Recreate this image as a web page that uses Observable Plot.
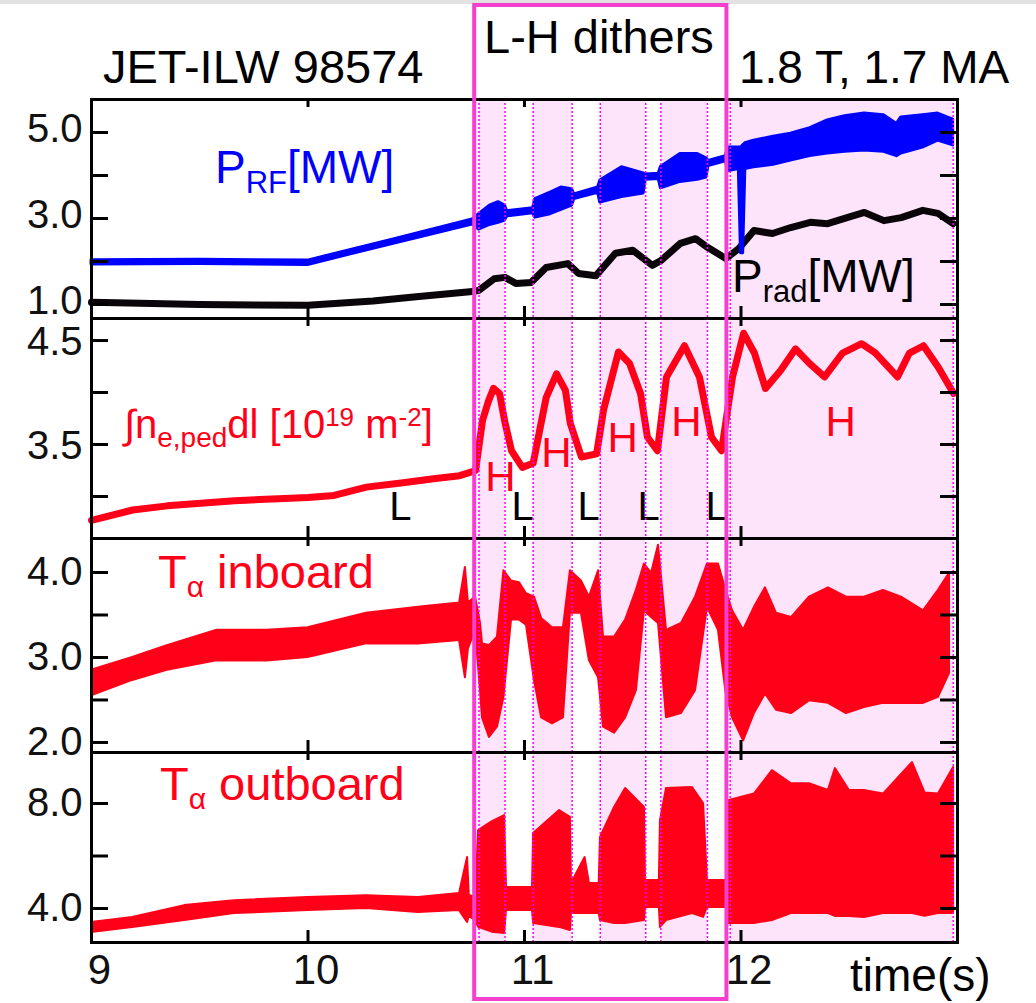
<!DOCTYPE html>
<html><head><meta charset="utf-8">
<script src="https://cdn.jsdelivr.net/npm/d3@7"></script>
<script src="https://cdn.jsdelivr.net/npm/@observablehq/plot@0.6"></script>
<style>
body{margin:0;background:#fff;}
#wrap{position:relative;width:1036px;height:1003px;overflow:hidden;background:#fff;}
#topband{position:absolute;left:0;top:0;width:1036px;height:4px;background:#e2e2e2;}
#wrap svg{overflow:visible;}
</style></head>
<body><div id="wrap"><div id="topband"></div></div>
<script>
// ---------------- DATA ----------------
// H-mode phases (s)
const hStart = [10.79, 11.04, 11.35, 11.63, 11.95];
const hEnd   = [10.91, 11.22, 11.56, 11.845, 12.98];
const ditherWindow = [10.77, 11.935];

// P_RF [MW] envelope
const prfT  = [9.00,9.50,10.00,10.40,10.76,10.79,10.84,10.88,10.91,10.92,11.04,11.05,11.12,11.17,11.22,11.23,11.34,11.35,11.45,11.55,11.56,11.62,11.63,11.72,11.80,11.84,11.85,11.93,11.94,11.99,12.00,12.01,12.02,12.06,12.15,12.23,12.32,12.40,12.48,12.57,12.66,12.72,12.74,12.84,12.91,12.98];
const prfLo = [1.93,1.94,1.92,2.42,2.86,2.74,2.85,2.90,2.95,3.05,3.12,3.02,3.10,3.20,3.30,3.45,3.60,3.37,3.50,3.58,3.90,3.92,3.70,3.85,3.90,3.95,4.22,4.33,4.10,4.15,2.19,2.19,4.15,4.19,4.25,4.35,4.45,4.51,4.55,4.58,4.55,4.45,4.51,4.65,4.81,4.70];
const prfHi = [2.03,2.04,2.02,2.52,2.98,3.10,3.30,3.38,3.30,3.17,3.24,3.45,3.60,3.72,3.68,3.56,3.72,3.88,4.19,4.05,4.02,4.04,4.20,4.50,4.50,4.40,4.34,4.45,4.65,4.65,4.65,4.70,4.75,4.81,4.90,4.97,5.10,5.28,5.38,5.44,5.40,5.20,5.35,5.40,5.44,5.30];

// P_rad [MW]
const pradT = [9.00,9.50,10.00,10.30,10.50,10.76,10.79,10.86,10.91,10.96,11.03,11.10,11.20,11.25,11.33,11.42,11.50,11.59,11.63,11.72,11.79,11.845,11.93,11.99,12.06,12.145,12.23,12.32,12.40,12.49,12.57,12.66,12.74,12.84,12.91,12.98];
const pradV = [1.05,1.00,0.98,1.08,1.18,1.30,1.33,1.60,1.63,1.49,1.51,1.86,1.95,1.72,1.67,2.19,2.26,1.91,2.02,2.42,2.53,2.33,2.07,2.30,2.72,2.65,2.79,2.91,2.88,3.02,3.14,2.95,3.02,3.19,3.12,2.88];

// pedestal line-integrated density [1e19 m^-2]
const neT = [9.00,9.19,9.35,9.66,10.00,10.12,10.27,10.43,10.58,10.70,10.76,10.774,10.806,10.834,10.857,10.885,10.908,10.94,10.99,11.04,11.10,11.148,11.189,11.212,11.263,11.333,11.365,11.434,11.485,11.536,11.568,11.614,11.656,11.739,11.808,11.864,11.91,11.961,12.012,12.062,12.113,12.182,12.252,12.316,12.386,12.469,12.557,12.621,12.723,12.778,12.843,12.912,12.982];
const neV = [2.77,2.87,2.91,2.96,2.99,3.01,3.09,3.13,3.17,3.20,3.24,3.25,3.73,3.92,4.04,3.99,3.73,3.44,3.28,3.32,3.95,4.18,4.02,3.70,3.38,3.41,3.83,4.39,4.28,3.99,3.57,3.44,4.15,4.45,4.15,3.57,3.44,4.15,4.57,4.38,4.04,4.21,4.42,4.28,4.15,4.38,4.47,4.38,4.15,4.38,4.45,4.24,3.99];

// T_alpha inboard envelope
const tinT  = [9.00,9.19,9.35,9.58,9.81,10.00,10.27,10.51,10.70,10.727,10.741,10.774,10.797,10.806,10.838,10.875,10.905,10.94,10.977,11.009,11.046,11.079,11.129,11.18,11.212,11.263,11.30,11.342,11.365,11.416,11.467,11.517,11.554,11.587,11.619,11.656,11.725,11.79,11.845,11.896,11.93,11.961,12.012,12.062,12.113,12.164,12.233,12.316,12.404,12.487,12.570,12.658,12.741,12.843,12.912,12.963];
const tinLo = [2.55,2.73,2.85,2.96,2.96,3.00,3.16,3.16,3.20,2.76,3.10,3.32,2.60,2.29,2.06,2.18,2.53,3.44,3.44,3.38,2.73,2.29,2.22,2.29,3.52,3.52,2.96,2.76,2.18,2.11,2.29,2.61,3.55,3.47,3.40,2.29,2.34,2.61,3.59,3.32,2.60,2.29,2.02,2.34,2.57,2.38,2.34,2.49,2.46,2.34,2.41,2.46,2.46,2.46,2.53,2.81];
const tinHi = [2.85,3.00,3.14,3.32,3.32,3.35,3.52,3.59,3.64,4.06,3.64,3.71,3.40,3.16,3.14,3.24,4.02,3.90,3.88,3.75,3.71,3.46,3.35,3.35,4.02,3.90,3.71,4.02,3.24,3.24,3.44,3.79,4.10,3.99,4.32,3.32,3.40,3.71,4.10,4.10,3.80,3.55,3.32,3.59,3.82,3.52,3.47,3.71,3.82,3.71,3.71,3.79,3.71,3.55,3.79,3.99];

// T_alpha outboard envelope
const toutT  = [9.00,9.19,9.43,9.66,10.00,10.27,10.51,10.70,10.737,10.745,10.774,10.788,10.85,10.908,10.917,11.037,11.042,11.162,11.212,11.217,11.28,11.30,11.345,11.351,11.416,11.467,11.554,11.559,11.623,11.628,11.656,11.776,11.827,11.845,11.937,11.942,12.062,12.145,12.233,12.316,12.404,12.436,12.50,12.570,12.658,12.792,12.85,12.912,12.982];
const toutLo = [3.09,3.28,3.54,3.81,3.92,4.00,3.85,3.92,3.47,3.70,3.54,3.28,3.10,3.05,3.92,3.92,3.43,3.28,3.16,3.81,3.81,3.81,3.81,3.54,3.43,3.43,3.54,4.04,4.04,3.28,3.54,3.81,3.66,4.04,4.04,3.43,3.43,3.54,3.81,3.81,3.81,3.70,3.70,3.66,3.81,3.81,3.70,3.81,3.81];
const toutHi = [3.47,3.66,4.11,4.30,4.42,4.49,4.42,4.57,5.94,4.50,4.42,6.97,7.30,7.54,4.80,4.80,6.86,7.73,7.47,4.95,5.94,4.95,4.95,6.71,7.85,8.57,7.85,5.07,5.07,7.35,8.57,8.61,8.00,5.07,5.07,8.11,8.36,9.25,8.75,8.75,8.50,9.33,8.50,8.50,8.36,9.56,8.40,8.36,9.37];

// axis ticks
const xTicks = [10, 11, 12];
const xLabels = [9, 10, 11, 12];
const p1Ticks = [1, 2, 3, 4, 5], p1Labels = [1, 3, 5];
const p2Ticks = [3.0, 3.5, 4.0, 4.5], p2Labels = [3.5, 4.5];
const p3Ticks = [2.0, 2.5, 3.0, 3.5, 4.0], p3Labels = [2, 3, 4];
const p4Ticks = [4, 6, 8], p4Labels = [4, 8];

// phase labels on the density panel
const hLabels = [{t:10.889,v:3.183},{t:11.148,v:3.413},{t:11.453,v:3.558},{t:11.748,v:3.712},{t:12.46,v:3.712}];
const lLabels = [{t:10.427,v:2.894},{t:10.991,v:2.894},{t:11.296,v:2.894},{t:11.573,v:2.894},{t:11.887,v:2.894}];

// ---------------- TABLES ----------------
const env = (T, L, H) => T.map((t, i) => ({t, lo: L[i], hi: H[i]}));
const prf = env(prfT, prfLo, prfHi);
const prad = pradT.map((t, i) => ({t, v: pradV[i]}));
const ne = neT.map((t, i) => ({t, v: neV[i]}));
const tin = env(tinT, tinLo, tinHi);
const tout = env(toutT, toutLo, toutHi);

// ---------------- DRAW ----------------
const FONT = '"Liberation Sans", Arial, Helvetica, sans-serif';
const W = 1036, ML = 91, MR = 79, innerW = W - ML - MR, TICK = 17;
const RED = "#ff0018", BLUE = "#0000ff", PINK = "#fde4fb", DOT = "#ff00ff";
const wrap = document.getElementById("wrap");

function makePanel({top, bottom, yDomain, yTicks, yLabels, labelDy = 0, marks, last}) {
  const mt = 3, mb = last ? 61 : 3, h = bottom - top;
  const plot = Plot.plot({
    width: W, height: h + mt + mb,
    marginLeft: ML, marginRight: MR, marginTop: mt, marginBottom: mb,
    x: {domain: [9, 13], ...(last ? {} : {axis: null})},
    y: {domain: yDomain},
    style: {background: "transparent", fontFamily: FONT, color: "#111", overflow: "visible"},
    marks: [
      Plot.rect(hStart, {x1: d => d, x2: (d, i) => hEnd[i], fill: PINK}),
      ...marks,
      Plot.ruleX([...hStart, ...hEnd], {x: d => d, stroke: DOT, strokeWidth: 1.5, strokeDasharray: "2,2"}),
      Plot.frame({stroke: "#000", strokeWidth: 3}),
      Plot.tickY(yTicks, {y: d => d, stroke: "#000", strokeWidth: 3, insetRight: innerW - TICK}),
      Plot.tickY(yTicks, {y: d => d, stroke: "#000", strokeWidth: 3, insetLeft: innerW - TICK}),
      Plot.tickX(xTicks, {x: d => d, stroke: "#000", strokeWidth: 3, insetBottom: h - 8}),
      Plot.tickX(xTicks, {x: d => d, stroke: "#000", strokeWidth: 3, insetTop: h - 12}),
      Plot.axisY(yLabels, {tickSize: 0, tickPadding: 9, fontSize: 40, dy: labelDy, label: null, tickFormat: d3.format(".1f")}),
      ...(last ? [Plot.axisX(xLabels, {tickSize: 0, tickPadding: 12, fontSize: 42, dx: 8, label: null, tickFormat: d => String(d)})] : [])
    ]
  });
  plot.style.position = "absolute";
  plot.style.left = "0px";
  plot.style.top = (top - mt) + "px";
  wrap.appendChild(plot);
  return plot;
}

const p1 = makePanel({top: 99, bottom: 318, yDomain: [0.674, 5.767], yTicks: p1Ticks, yLabels: p1Labels, labelDy: -3, marks: [
  Plot.line(prad, {x: "t", y: "v", stroke: "#0a0508", strokeWidth: 7}),
  Plot.areaY(prf, {x: "t", y1: "lo", y2: "hi", fill: BLUE, stroke: BLUE, strokeWidth: 3})
]});
const p2 = makePanel({top: 318, bottom: 538, yDomain: [2.596, 4.712], yTicks: p2Ticks, yLabels: p2Labels, labelDy: 2, marks: [
  Plot.line(ne, {x: "t", y: "v", stroke: RED, strokeWidth: 7}),
  Plot.text(hLabels, {x: "t", y: "v", text: () => "H", fill: RED, fontSize: 42}),
  Plot.text(lLabels, {x: "t", y: "v", text: () => "L", fill: "#000", fontSize: 40})
]});
const p3 = makePanel({top: 538, bottom: 752, yDomain: [1.882, 4.4], yTicks: p3Ticks, yLabels: p3Labels, marks: [
  Plot.areaY(tin, {x: "t", y1: "lo", y2: "hi", fill: RED, stroke: RED, strokeWidth: 2})
]});
const p4 = makePanel({top: 752, bottom: 942, yDomain: [2.705, 9.943], yTicks: p4Ticks, yLabels: p4Labels, last: true, marks: [
  Plot.areaY(tout, {x: "t", y1: "lo", y2: "hi", fill: RED, stroke: RED, strokeWidth: 2})
]});

// ---------------- OVERLAY: annotations & dither window ----------------
const sx = p1.scale("x");
const ov = d3.select(wrap).append("svg")
  .attr("width", W).attr("height", 1003)
  .style("position", "absolute").style("left", "0px").style("top", "0px")
  .style("font-family", FONT);

const bx1 = sx.apply(ditherWindow[0]), bx2 = sx.apply(ditherWindow[1]);
ov.append("rect").attr("x", bx1).attr("y", 5).attr("width", bx2 - bx1).attr("height", 994)
  .attr("fill", "none").attr("stroke", "#f43fcf").attr("stroke-width", 4);

function label(x, y, size, color, parts) {
  const t = ov.append("text").attr("x", x).attr("y", y).attr("font-size", size).attr("fill", color);
  let cur = 0;
  for (const [txt, kind, s, off] of parts) {
    const target = kind ? off : 0;
    const ts = t.append("tspan").text(txt).attr("dy", target - cur);
    if (kind) ts.attr("font-size", s);
    cur = target;
  }
}
label(103, 83, 47, "#000", [["JET-ILW 98574"]]);
label(484, 53, 47, "#000", [["L-H dithers"]]);
label(739, 83, 46, "#000", [["1.8 T, 1.7 MA"]]);
label(215, 183, 46, BLUE, [["P"], ["RF", "sub", 31, 10], ["[MW]"]]);
label(732, 292, 46, "#000", [["P"], ["rad", "sub", 31, 10], ["[MW]"]]);
label(124, 438, 40, RED, [["\u222Bn"], ["e,ped", "sub", 28, 9], ["dl [10"], ["19", "sup", 26, -12], [" m"], ["-2", "sup", 26, -12], ["]"]]);
label(158, 588, 47, RED, [["T"], ["\u03B1", "sub", 30, 9], [" inboard"]]);
label(160, 800, 47, RED, [["T"], ["\u03B1", "sub", 30, 9], [" outboard"]]);
label(850, 991, 46, "#000", [["time(s)"]]);
</script>
</body></html>
